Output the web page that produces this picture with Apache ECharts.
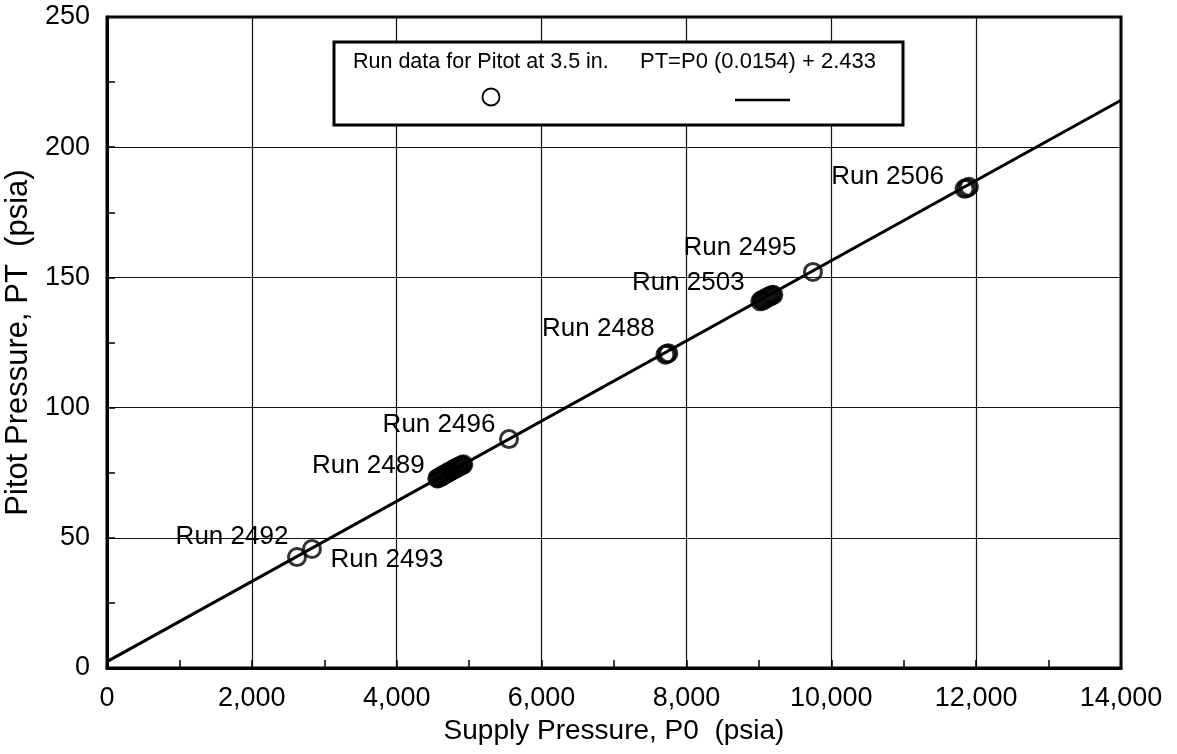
<!DOCTYPE html>
<html>
<head>
<meta charset="utf-8">
<script src="https://cdn.jsdelivr.net/npm/echarts@6/dist/echarts.min.js"></script>
<style>
  html, body { margin: 0; padding: 0; background: #fff; }
  #chart { width: 1177px; height: 754px; }
</style>
</head>
<body>
<div id="chart"></div>
<script>
// Pitot run data: supply pressure P0 (psia) vs pitot pressure PT (psia)
const runNames = ['Run 2492', 'Run 2493', 'Run 2489', 'Run 2496', 'Run 2488', 'Run 2503', 'Run 2495', 'Run 2506'];
const runSupplyP0 = [
  [2623],
  [2830],
  [4560, 4575, 4590, 4610, 4625, 4640, 4655, 4670, 4690, 4705, 4720, 4740, 4755, 4770, 4790, 4805, 4820, 4840, 4855, 4870, 4890, 4905, 4920],
  [5550],
  [7710, 7730, 7750],
  [9020, 9040, 9060, 9080, 9100, 9120, 9140, 9160, 9180, 9200],
  [9747],
  [11840, 11870, 11900]
];
const runPitotPT = [
  [42.6],
  [45.7],
  [72.8, 72.9, 73.3, 73.5, 73.6, 74.1, 74.2, 74.4, 74.9, 74.9, 75.2, 75.6, 75.7, 76.0, 76.4, 76.4, 76.8, 77.1, 77.2, 77.5, 77.8, 77.9, 78.2],
  [87.9],
  [120.3, 120.6, 120.9],
  [140.8, 141.3, 141.2, 141.8, 141.9, 142.5, 142.4, 143.0, 143.1, 143.3],
  [152.1],
  [184.0, 184.3, 184.8]
];

// Linear fit: PT = P0 (0.0154) + 2.433
const fitSlope = 0.0154;
const fitIntercept = 2.433;
const fitP0Range = [0, 14000];

const legendRunText = 'Run data for Pitot at 3.5 in.';
const legendFitText = 'PT=P0 (0.0154) + 2.433';
const xAxisTitle = 'Supply Pressure, P0  (psia)';
const yAxisTitle = 'Pitot Pressure, PT  (psia)';

// Where each run's name sits relative to its first point (px)
const runLabelOffset = {
  'Run 2492': [-65, -20],
  'Run 2493': [75, 11],
  'Run 2489': [-69, -13],
  'Run 2496': [-70, -14],
  'Run 2488': [-67, -26],
  'Run 2503': [-72, -19],
  'Run 2495': [-73, -24],
  'Run 2506': [-77, -12]
};

const FONT = "'Liberation Sans', Arial, Helvetica, sans-serif";

const scatterData = [];
runNames.forEach((name, i) => {
  runSupplyP0[i].forEach((p0, j) => {
    const item = { value: [p0, runPitotPT[i][j]] };
    if (j === 0) {
      item.label = {
        show: true,
        formatter: name,
        position: 'inside',
        offset: runLabelOffset[name],
        fontSize: 26,
        fontFamily: FONT,
        color: '#000',
        opacity: 1,
        textBorderWidth: 0
      };
    }
    scatterData.push(item);
  });
});

const fitLine = fitP0Range.map(p0 => [p0, p0 * fitSlope + fitIntercept]);

const chart = echarts.init(document.getElementById('chart'), null, { renderer: 'canvas' });

chart.setOption({
  animation: false,
  backgroundColor: '#fff',
  grid: {
    left: 107, right: 56, top: 17, bottom: 86,
    outerBoundsMode: 'none',
    containLabel: false,
    show: true, borderColor: '#000', borderWidth: 3, backgroundColor: 'transparent'
  },
  xAxis: {
    type: 'value', min: 0, max: 14000, interval: 2000,
    name: xAxisTitle, nameLocation: 'middle', nameGap: 46,
    nameTextStyle: { fontSize: 28, fontFamily: FONT, color: '#000' },
    axisLine: { show: true, onZero: false, lineStyle: { color: '#000', width: 3 } },
    axisTick: { show: true, inside: true, length: 8, lineStyle: { color: '#000', width: 1.5 } },
    minorTick: { show: true, splitNumber: 2, length: 8, lineStyle: { color: '#000', width: 1.5 } },
    splitLine: { show: true, lineStyle: { color: '#111', width: 1.2 } },
    axisLabel: {
      fontSize: 27, fontFamily: FONT, color: '#000', margin: 17,
      formatter: v => v.toLocaleString('en-US')
    }
  },
  yAxis: {
    type: 'value', min: 0, max: 250, interval: 50,
    name: yAxisTitle, nameLocation: 'middle', nameGap: 66,
    nameTextStyle: { fontSize: 31, fontFamily: FONT, color: '#000' },
    axisLine: { show: true, onZero: false, lineStyle: { color: '#000', width: 3 } },
    axisTick: { show: true, inside: true, length: 8, lineStyle: { color: '#000', width: 1.5 } },
    minorTick: { show: true, splitNumber: 2, length: 8, lineStyle: { color: '#000', width: 1.5 } },
    splitLine: { show: true, lineStyle: { color: '#111', width: 1.2 } },
    axisLabel: { fontSize: 27, fontFamily: FONT, color: '#000', margin: 17 }
  },
  series: [
    {
      name: 'fit',
      type: 'line',
      data: fitLine,
      showSymbol: false,
      symbol: 'none',
      lineStyle: { color: '#000', width: 3 },
      silent: true,
      z: 2
    },
    {
      name: 'runs',
      type: 'scatter',
      data: scatterData,
      symbol: 'circle',
      symbolSize: 17,
      itemStyle: { color: 'rgba(0,0,0,0)', borderColor: '#000', borderWidth: 3 },
      z: 3
    }
  ],
  graphic: [
    { type: 'rect', silent: true, z: 10, shape: { x: 334, y: 42, width: 569, height: 83 },
      style: { fill: '#fff', stroke: '#000', lineWidth: 3 } },
    { type: 'text', silent: true, z: 11, x: 353, y: 62,
      style: { text: legendRunText, fontSize: 21.5, fontFamily: FONT, fill: '#000', verticalAlign: 'middle' } },
    { type: 'text', silent: true, z: 11, x: 640, y: 62,
      style: { text: legendFitText, fontSize: 22, fontFamily: FONT, fill: '#000', verticalAlign: 'middle' } },
    { type: 'circle', silent: true, z: 11, shape: { cx: 491, cy: 97, r: 8.5 },
      style: { fill: 'none', stroke: '#000', lineWidth: 1.8 } },
    { type: 'line', silent: true, z: 11, shape: { x1: 735, y1: 100, x2: 790, y2: 100 },
      style: { stroke: '#000', lineWidth: 2.5 } }
  ]
});
</script>
</body>
</html>
